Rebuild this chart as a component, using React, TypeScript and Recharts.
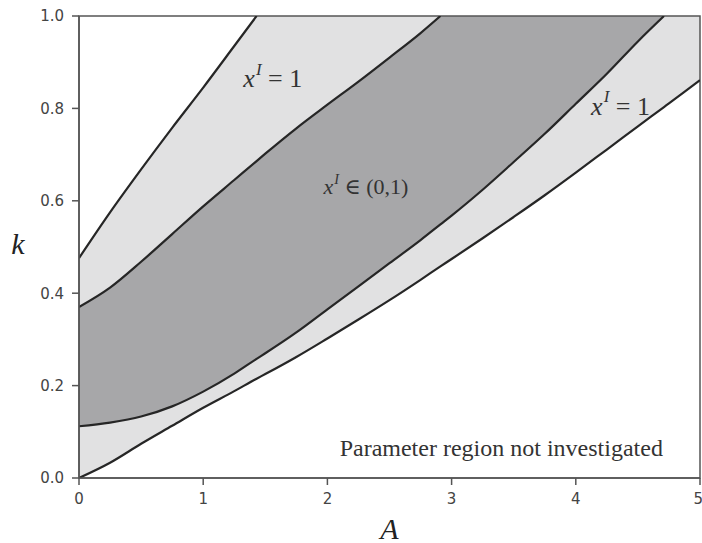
import React from 'react';
import {
    ComposedChart,
    Area,
    Line,
    XAxis,
    YAxis,
    ReferenceArea,
    ReferenceDot
} from 'recharts';

const aValues = [0, 0.25, 0.5, 0.75, 1, 1.25, 1.43, 1.5, 1.75, 2, 2.25, 2.5, 2.75, 2.91, 3, 3.25, 3.5, 3.75, 4, 4.25, 4.5, 4.71, 4.75, 5];

// upper edge of the left x^I = 1 band
const kCurve1 = [0.476, 0.575, 0.668, 0.758, 0.845, 0.935, 1.0, null, null, null, null, null, null, null, null, null, null, null, null, null, null, null, null, null];
// upper edge of x^I in (0,1)
const kCurve2 = [0.37, 0.412, 0.468, 0.528, 0.588, 0.645, 0.686, 0.702, 0.757, 0.808, 0.858, 0.91, 0.963, 1.0, null, null, null, null, null, null, null, null, null, null];
// lower edge of x^I in (0,1)
const kCurve3 = [0.112, 0.12, 0.133, 0.155, 0.187, 0.226, 0.258, 0.27, 0.315, 0.365, 0.415, 0.465, 0.515, 0.549, 0.568, 0.624, 0.684, 0.745, 0.81, 0.875, 0.945, 1.0, null, null];
// lower edge of the right x^I = 1 band
const kCurve4 = [0, 0.033, 0.074, 0.113, 0.152, 0.188, 0.215, 0.225, 0.262, 0.302, 0.343, 0.385, 0.429, 0.458, 0.474, 0.519, 0.565, 0.612, 0.661, 0.711, 0.761, 0.803, 0.811, 0.861];

const xTicks = [0, 1, 2, 3, 4, 5];
const yTicks = [0, 0.2, 0.4, 0.6, 0.8, 1.0];

const LIGHT = '#e1e1e2';
const DARK = '#a7a7a9';
const LINE = '#262626';
const AXIS = '#555';
const MATH_FONT = '"Liberation Serif", "DejaVu Serif", serif';

const data = aValues.map((a, i) => ({
    a,
    c1: kCurve1[i],
    c2: kCurve2[i],
    c3: kCurve3[i],
    c4: kCurve4[i]
}));

const mathLabel = (size: number, rest: string) => (p: any) => (
    <text x={p.cx} y={p.cy} textAnchor="middle" dominantBaseline="central" fontFamily={MATH_FONT} fontSize={size} fill="#333">
        <tspan fontStyle="italic">x</tspan>
        <tspan fontStyle="italic" fontSize={size * 0.65} dy={-size * 0.36} dx={1}>I</tspan>
        <tspan dy={size * 0.36}>{rest}</tspan>
    </text>
);

const App: React.FC = () => {
    return (
        <div style={{ position: 'absolute', left: 0, top: 0, width: 702, height: 543, background: '#fff' }}>
            <ComposedChart
                width={702}
                height={543}
                data={data}
                margin={{ top: 16, right: 2, left: 0, bottom: 20 }}
            >
                <XAxis
                    dataKey="a"
                    type="number"
                    domain={[0, 5]}
                    ticks={xTicks}
                    allowDataOverflow
                    height={45}
                    stroke={AXIS}
                    strokeWidth={1.5}
                    tickSize={7}
                    tickMargin={8}
                    tick={{ fill: '#444', fontSize: 15, fontFamily: '"DejaVu Sans", sans-serif' }}
                    label={{
                        content: ({ viewBox }: any) => (
                            <text x={viewBox.x + viewBox.width / 2} y={viewBox.y + 50} textAnchor="middle" dominantBaseline="central"
                                fontFamily={MATH_FONT} fontStyle="italic" fontSize={30} fill="#222">A</text>
                        )
                    }}
                />
                <YAxis
                    type="number"
                    domain={[0, 1]}
                    ticks={yTicks}
                    allowDataOverflow
                    width={79}
                    stroke={AXIS}
                    strokeWidth={1.5}
                    tickSize={7}
                    tickMargin={8}
                    tickFormatter={(v: number) => v.toFixed(1)}
                    tick={{ fill: '#444', fontSize: 15, fontFamily: '"DejaVu Sans", sans-serif' }}
                    label={{
                        content: ({ viewBox }: any) => (
                            <text x={18} y={viewBox.y + viewBox.height / 2 - 4} textAnchor="middle" dominantBaseline="central"
                                fontFamily={MATH_FONT} fontStyle="italic" fontSize={30} fill="#222">k</text>
                        )
                    }}
                />

                {/* regions are painted from the bottom curve upwards to k = 1 */}
                <Area type="monotone" dataKey="c4" baseValue={1} fill={LIGHT} fillOpacity={1} stroke="none" isAnimationActive={false} />
                <Area type="monotone" dataKey="c3" baseValue={1} fill={DARK} fillOpacity={1} stroke="none" isAnimationActive={false} />
                <Area type="monotone" dataKey="c2" baseValue={1} fill={LIGHT} fillOpacity={1} stroke="none" isAnimationActive={false} />
                <Area type="monotone" dataKey="c1" baseValue={1} fill="#ffffff" fillOpacity={1} stroke="none" isAnimationActive={false} />

                <Line type="monotone" dataKey="c1" stroke={LINE} strokeWidth={2.2} dot={false} isAnimationActive={false} />
                <Line type="monotone" dataKey="c2" stroke={LINE} strokeWidth={2.2} dot={false} isAnimationActive={false} />
                <Line type="monotone" dataKey="c3" stroke={LINE} strokeWidth={2.2} dot={false} isAnimationActive={false} />
                <Line type="monotone" dataKey="c4" stroke={LINE} strokeWidth={2.2} dot={false} isAnimationActive={false} />

                <ReferenceDot x={1.56} y={0.865} r={0} ifOverflow="visible" shape={mathLabel(26, ' = 1')} />
                <ReferenceDot x={2.31} y={0.631} r={0} ifOverflow="visible" shape={mathLabel(22, ' ∈ (0,1)')} />
                <ReferenceDot x={4.36} y={0.806} r={0} ifOverflow="visible" shape={mathLabel(26, ' = 1')} />
                <ReferenceDot
                    x={3.4}
                    y={0.065}
                    r={0}
                    ifOverflow="visible"
                    shape={(p: any) => (
                        <text x={p.cx} y={p.cy} textAnchor="middle" dominantBaseline="central" fontFamily={MATH_FONT} fontSize={24} fill="#333">
                            Parameter region not investigated
                        </text>
                    )}
                />

                <ReferenceArea x1={0} x2={5} y1={0} y2={1} fill="none" stroke={AXIS} strokeWidth={1.5} ifOverflow="visible" />
            </ComposedChart>
        </div>
    );
};

export default App;
